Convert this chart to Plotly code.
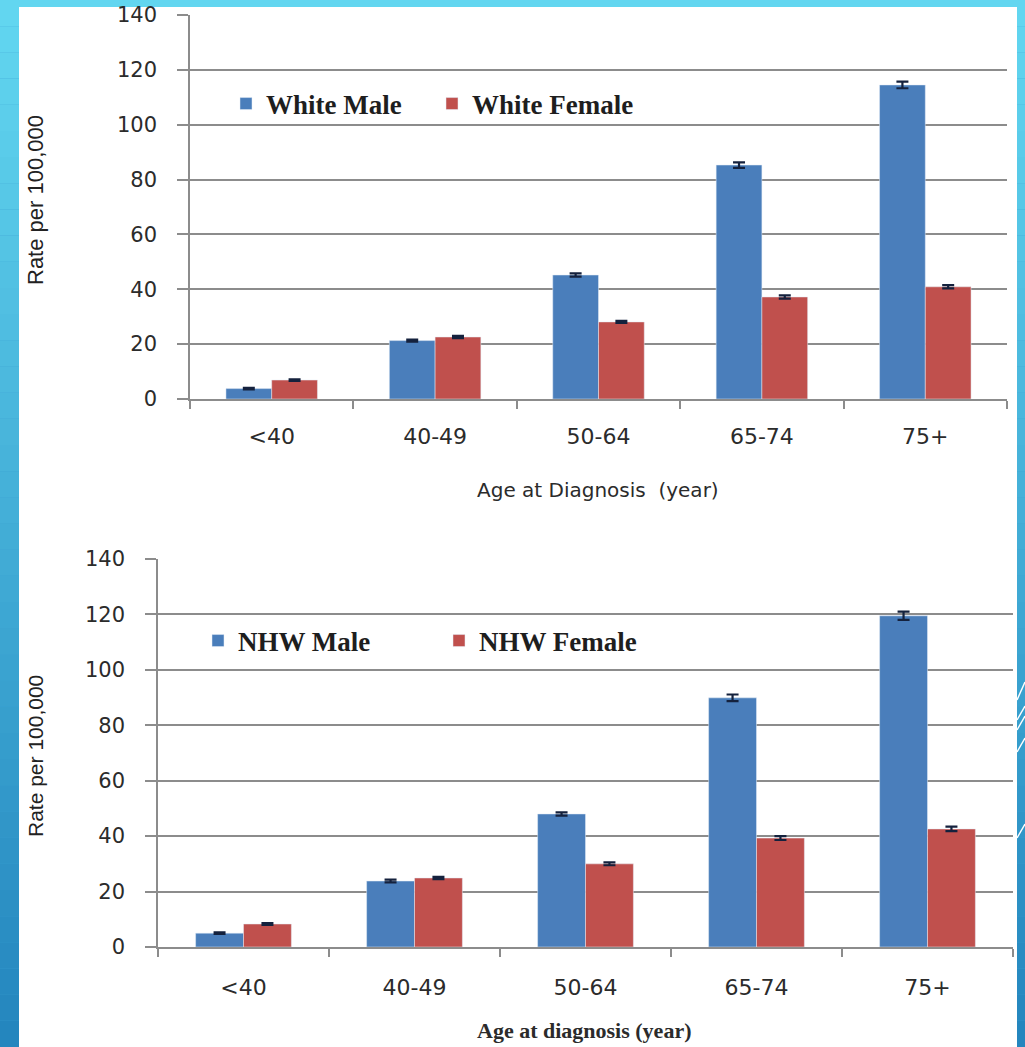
import plotly.graph_objects as go

# ---------------- data ----------------
categories = ["<40", "40-49", "50-64", "65-74", "75+"]

white_male = [3.8, 21.3, 45.2, 85.3, 114.5]
white_female = [6.9, 22.6, 28.1, 37.2, 40.9]
white_male_err = [0.3, 0.4, 0.6, 1.0, 1.2]
white_female_err = [0.3, 0.4, 0.4, 0.6, 0.6]

nhw_male = [5.0, 23.8, 48.0, 89.9, 119.5]
nhw_female = [8.3, 24.9, 30.0, 39.3, 42.6]
nhw_male_err = [0.3, 0.5, 0.6, 1.2, 1.5]
nhw_female_err = [0.3, 0.4, 0.5, 0.7, 0.8]

y_ticks = [0, 20, 40, 60, 80, 100, 120, 140]

# ---------------- style ----------------
W, H = 1025, 1047
BLUE = "#4a7ebb"
RED = "#c0504d"
ERR = "#14213d"
GRID = "#8c8c8c"
TICKFONT = dict(family="DejaVu Sans", size=21, color="#2b2b2b")
XTICKFONT = dict(family="DejaVu Sans", size=22, color="#2b2b2b")
LEGFONT = dict(family="Liberation Serif", size=27, color="#1e1e1e", weight="bold")


def px(x):
    return x / W


def py(y):
    return 1 - y / H


def err(a):
    return dict(type="data", array=a, color=ERR, thickness=2.2, width=6, visible=True)


fig = go.Figure()
fig.add_trace(go.Bar(x=categories, y=white_male, name="White Male", marker_color=BLUE,
                     error_y=err(white_male_err), xaxis="x", yaxis="y", legend="legend"))
fig.add_trace(go.Bar(x=categories, y=white_female, name="White Female", marker_color=RED,
                     error_y=err(white_female_err), xaxis="x", yaxis="y", legend="legend"))
fig.add_trace(go.Bar(x=categories, y=nhw_male, name="NHW Male", marker_color=BLUE,
                     error_y=err(nhw_male_err), xaxis="x2", yaxis="y2", legend="legend2"))
fig.add_trace(go.Bar(x=categories, y=nhw_female, name="NHW Female", marker_color=RED,
                     error_y=err(nhw_female_err), xaxis="x2", yaxis="y2", legend="legend2"))


def yax(domain, anchor):
    return dict(domain=domain, anchor=anchor, range=[0, 140], tickvals=y_ticks,
                showgrid=True, gridcolor=GRID, gridwidth=1.6,
                showline=True, linecolor=GRID, linewidth=1.6,
                ticks="outside", ticklen=11, tickcolor=GRID, tickwidth=1.6,
                tickfont=TICKFONT, ticklabelstandoff=16, zeroline=False, fixedrange=True,
                automargin=False)


def xax(domain, anchor, standoff):
    return dict(domain=domain, anchor=anchor, type="category",
                showgrid=False, showline=True, linecolor=GRID, linewidth=1.6,
                ticks="outside", tickson="boundaries", ticklen=8, tickcolor=GRID, tickwidth=1.6,
                tickfont=XTICKFONT, ticklabelstandoff=standoff, zeroline=False, fixedrange=True,
                automargin=False)


# background: vertical gradient in bands + white panel
shapes = []
n = 40
top = (98, 214, 240)
bot = (36, 134, 190)
for i in range(n):
    t = i / (n - 1)
    c = tuple(int(round(top[k] + (bot[k] - top[k]) * t)) for k in range(3))
    shapes.append(dict(type="rect", xref="paper", yref="paper", x0=0, x1=1,
                       y0=1 - (i + 1) / n, y1=1 - i / n, line=dict(width=0),
                       fillcolor="rgb(%d,%d,%d)" % c, layer="below"))
shapes.append(dict(type="rect", xref="paper", yref="paper", x0=px(19), x1=px(1017),
                   y0=0, y1=py(7), line=dict(width=0), fillcolor="white", layer="below"))
# decorative thin lines on the right edge
for (x0, y0, x1, y1) in [(1017, 700, 1025, 682), (1017, 720, 1025, 706),
                         (1017, 730, 1025, 716), (1017, 752, 1025, 738),
                         (1017, 838, 1025, 824)]:
    shapes.append(dict(type="line", xref="paper", yref="paper", x0=px(x0), y0=py(y0),
                       x1=px(x1), y1=py(y1), line=dict(color="white", width=1.5), layer="below"))

annotations = [
    dict(text="Rate per 100,000", x=px(35), y=py(200), xref="paper", yref="paper",
         textangle=-90, showarrow=False, xanchor="center", yanchor="middle",
         font=dict(family="Liberation Sans", size=22, color="#222")),
    dict(text="Rate per 100,000", x=px(35), y=py(756), xref="paper", yref="paper",
         textangle=-90, showarrow=False, xanchor="center", yanchor="middle",
         font=dict(family="Liberation Sans", size=21, color="#222")),
    dict(text="Age at Diagnosis\u00a0 (year)", x=px(598), y=py(490), xref="paper", yref="paper",
         showarrow=False, xanchor="center", yanchor="middle",
         font=dict(family="DejaVu Sans", size=20, color="#2b2b2b")),
    dict(text="Age at diagnosis (year)", x=px(584), y=py(1030), xref="paper", yref="paper",
         showarrow=False, xanchor="center", yanchor="middle",
         font=dict(family="Liberation Serif", size=22, color="#2b2b2b", weight="bold")),
]

fig.update_layout(
    width=W, height=H,
    margin=dict(l=0, r=0, t=0, b=0, autoexpand=False),
    paper_bgcolor="rgb(60,160,210)",
    plot_bgcolor="rgba(0,0,0,0)",
    barmode="group", bargap=0.44, bargroupgap=0,
    xaxis=xax([px(190), px(1007)], "y", 17),
    yaxis=yax([py(399), py(15)], "x"),
    xaxis2=xax([px(158), px(1013)], "y2", 20),
    yaxis2=yax([py(947), py(559)], "x2"),
    legend=dict(x=px(226), y=py(104), xanchor="left", yanchor="middle", orientation="h",
                bgcolor="rgba(0,0,0,0)", font=LEGFONT, entrywidth=161, entrywidthmode="pixels",
                traceorder="normal"),
    legend2=dict(x=px(198), y=py(641), xanchor="left", yanchor="middle", orientation="h",
                 bgcolor="rgba(0,0,0,0)", font=LEGFONT, entrywidth=196, entrywidthmode="pixels",
                 traceorder="normal"),
    shapes=shapes,
    annotations=annotations,
    showlegend=True,
)

fig.write_html("out.html", config={"displayModeBar": False},
               post_script="document.body.style.margin='0';document.body.style.overflow='hidden';")
